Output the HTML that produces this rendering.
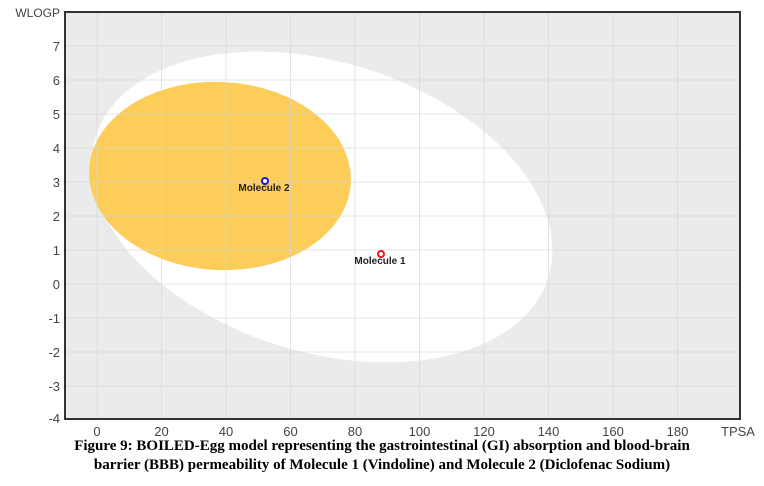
<!DOCTYPE html><html><head><style>body{margin:0;background:#fff;width:764px;height:486px;overflow:hidden}
.cap{position:absolute;left:0;width:764px;top:437px;text-align:center;font:bold 15px "Liberation Serif",serif;line-height:19px;color:#000}</style></head><body>
<svg width="764" height="440" style="position:absolute;left:0;top:0" font-family="Liberation Sans, sans-serif">
<rect x="65" y="12" width="675" height="407" fill="#ebebeb"/>
<ellipse cx="322" cy="207" rx="237" ry="145" transform="rotate(17.3 322 207)" fill="#fff"/>
<ellipse cx="220" cy="176" rx="131" ry="94" transform="rotate(3 220 176)" fill="#fccd58"/>
<g stroke="#d8d8d8" stroke-width="1" opacity="0.7">
<line x1="97" y1="12" x2="97" y2="419"/><line x1="161.5" y1="12" x2="161.5" y2="419"/><line x1="226" y1="12" x2="226" y2="419"/><line x1="290.5" y1="12" x2="290.5" y2="419"/><line x1="355" y1="12" x2="355" y2="419"/><line x1="419.5" y1="12" x2="419.5" y2="419"/><line x1="484" y1="12" x2="484" y2="419"/><line x1="548.5" y1="12" x2="548.5" y2="419"/><line x1="613" y1="12" x2="613" y2="419"/><line x1="677.5" y1="12" x2="677.5" y2="419"/>
<line x1="65" y1="46" x2="740" y2="46"/><line x1="65" y1="80" x2="740" y2="80"/><line x1="65" y1="114" x2="740" y2="114"/><line x1="65" y1="148" x2="740" y2="148"/><line x1="65" y1="182" x2="740" y2="182"/><line x1="65" y1="216" x2="740" y2="216"/><line x1="65" y1="250" x2="740" y2="250"/><line x1="65" y1="284" x2="740" y2="284"/><line x1="65" y1="318" x2="740" y2="318"/><line x1="65" y1="352" x2="740" y2="352"/><line x1="65" y1="386" x2="740" y2="386"/>
</g>
<rect x="65" y="12" width="675" height="407" fill="none" stroke="#333" stroke-width="2"/>
<g font-size="13" fill="#444" text-anchor="end">
<text x="60" y="51">7</text><text x="60" y="85">6</text><text x="60" y="119">5</text><text x="60" y="153">4</text><text x="60" y="187">3</text><text x="60" y="221">2</text><text x="60" y="255">1</text><text x="60" y="289">0</text><text x="60" y="323">-1</text><text x="60" y="357">-2</text><text x="60" y="391">-3</text><text x="60" y="423">-4</text>
<text x="60" y="17" font-size="12">WLOGP</text></g>
<g font-size="13" fill="#444" text-anchor="middle">
<text x="97" y="436">0</text><text x="161.5" y="436">20</text><text x="226" y="436">40</text><text x="290.5" y="436">60</text><text x="355" y="436">80</text><text x="419.5" y="436">100</text><text x="484" y="436">120</text><text x="548.5" y="436">140</text><text x="613" y="436">160</text><text x="677.5" y="436">180</text><text x="738" y="436">TPSA</text></g>
<circle cx="265" cy="181" r="3" fill="#fff" stroke="#1a1ad0" stroke-width="2"/>
<circle cx="381" cy="254" r="3" fill="#fff" stroke="#e02020" stroke-width="2"/>
<g font-size="10" font-weight="bold" fill="#222" text-anchor="middle">
<text x="264" y="191">Molecule 2</text><text x="380" y="264">Molecule 1</text></g>
</svg>
<div class="cap">Figure 9: BOILED-Egg model representing the gastrointestinal (GI) absorption and blood-brain<br>barrier (BBB) permeability of Molecule 1 (Vindoline) and Molecule 2 (Diclofenac Sodium)</div>
</body></html>
